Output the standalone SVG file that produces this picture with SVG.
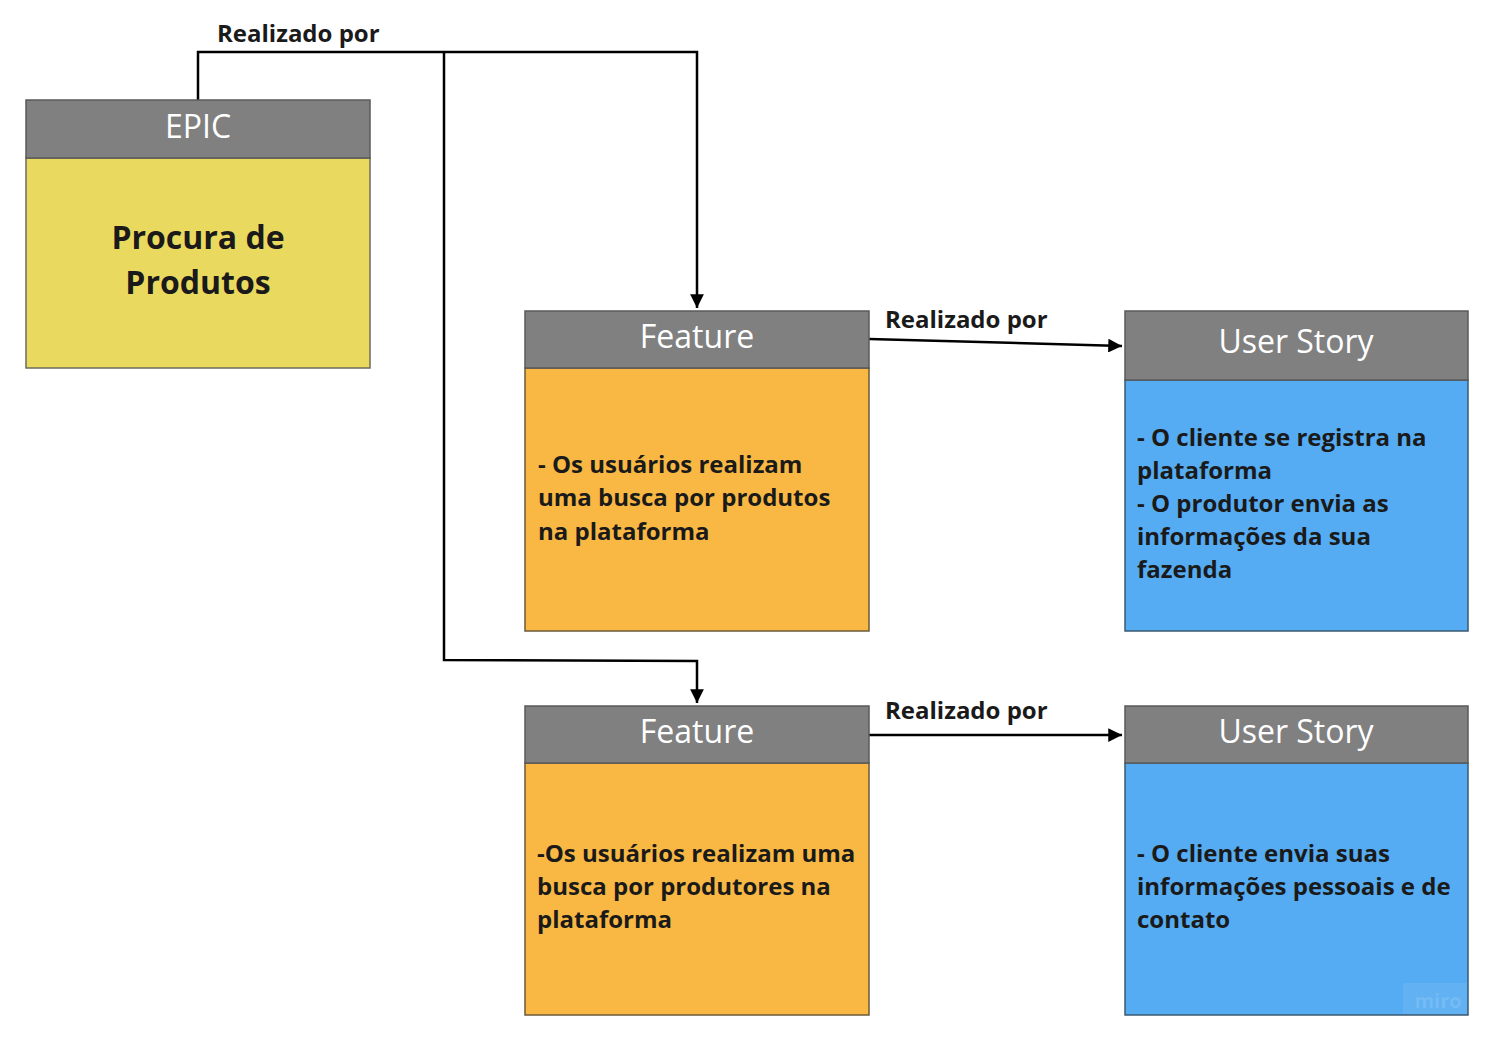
<svg xmlns="http://www.w3.org/2000/svg" width="1496" height="1043" viewBox="0 0 1496 1043">
<style>
.hdr{fill:#808080;stroke:#5a5a5a;stroke-width:1.5}
.ht{font-family:"Open Sans","Noto Sans",sans-serif;font-size:32px;fill:#ffffff;text-anchor:middle}
.bt{font-family:"Open Sans","Noto Sans",sans-serif;font-size:24px;font-weight:bold;fill:#1a1a1a}
.lbl{font-family:"Open Sans","Noto Sans",sans-serif;font-size:24px;font-weight:bold;fill:#1a1a1a}
.con{fill:none;stroke:#000;stroke-width:2.5}
</style>
<defs>
<marker id="a" viewBox="0 0 10 10" refX="10" refY="5" markerWidth="5.5" markerHeight="5.5" orient="auto">
<path d="M0,0 L10,5 L0,10 z" fill="#000"/>
</marker>
</defs>
<rect width="1496" height="1043" fill="#ffffff"/>
<g id="connectors">
<path class="con" d="M198,100 V52 H697 V308" marker-end="url(#a)"/>
<path class="con" d="M444,52 V660 L697,661 V703" marker-end="url(#a)"/>
<path class="con" d="M869,339 L1122,346" marker-end="url(#a)"/>
<path class="con" d="M869,735 L1122,735" marker-end="url(#a)"/>
<text class="lbl" x="217" y="42">Realizado por</text>
<text class="lbl" x="885" y="328">Realizado por</text>
<text class="lbl" x="885" y="719">Realizado por</text>
</g>
<g id="epic">
<rect x="26" y="158" width="344" height="210" fill="#EAD95F" stroke="#6b6b5a" stroke-width="1.5"/>
<rect class="hdr" x="26" y="100" width="344" height="58"/>
<text class="ht" x="198" y="138">EPIC</text>
<text x="198" y="249" text-anchor="middle" font-family="'Open Sans','Noto Sans',sans-serif" font-size="32" font-weight="bold" fill="#1a1a1a">Procura de</text>
<text x="198" y="294" text-anchor="middle" font-family="'Open Sans','Noto Sans',sans-serif" font-size="32" font-weight="bold" fill="#1a1a1a">Produtos</text>
</g>
<g id="feature1">
<rect x="525" y="368" width="344" height="263" fill="#F9B843" stroke="#6b5a3a" stroke-width="1.5"/>
<rect class="hdr" x="525" y="311" width="344" height="57"/>
<text class="ht" x="697" y="348">Feature</text>
<text class="bt" x="538" y="473">- Os usuários realizam</text>
<text class="bt" x="538" y="506">uma busca por produtos</text>
<text class="bt" x="538" y="540">na plataforma</text>
</g>
<g id="userstory1">
<rect x="1125" y="380" width="343" height="251" fill="#55ACF2" stroke="#3a5a70" stroke-width="1.5"/>
<rect class="hdr" x="1125" y="311" width="343" height="69"/>
<text class="ht" x="1296" y="353">User Story</text>
<text class="bt" x="1137" y="446">- O cliente se registra na</text>
<text class="bt" x="1137" y="479">plataforma</text>
<text class="bt" x="1137" y="512">- O produtor envia as</text>
<text class="bt" x="1137" y="545">informações da sua</text>
<text class="bt" x="1137" y="578">fazenda</text>
</g>
<g id="feature2">
<rect x="525" y="763" width="344" height="252" fill="#F9B843" stroke="#6b5a3a" stroke-width="1.5"/>
<rect class="hdr" x="525" y="706" width="344" height="57"/>
<text class="ht" x="697" y="743">Feature</text>
<text class="bt" x="537" y="862">-Os usuários realizam uma</text>
<text class="bt" x="537" y="895">busca por produtores na</text>
<text class="bt" x="537" y="928">plataforma</text>
</g>
<g id="userstory2">
<rect x="1125" y="763" width="343" height="252" fill="#55ACF2" stroke="#3a5a70" stroke-width="1.5"/>
<rect class="hdr" x="1125" y="706" width="343" height="57"/>
<text class="ht" x="1296" y="743">User Story</text>
<text class="bt" x="1137" y="862">- O cliente envia suas</text>
<text class="bt" x="1137" y="895">informações pessoais e de</text>
<text class="bt" x="1137" y="928">contato</text>
<rect x="1403" y="983" width="64" height="31" fill="#ffffff" fill-opacity="0.08"/>
<text x="1438" y="1008" text-anchor="middle" font-family="'Open Sans',sans-serif" font-size="20" font-weight="bold" fill="#ffffff" fill-opacity="0.12">miro</text>
</g>
</svg>
